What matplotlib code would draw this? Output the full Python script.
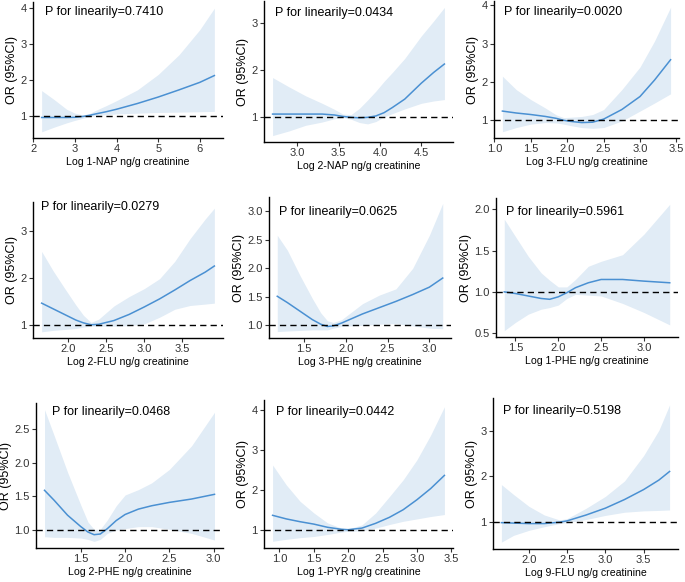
import numpy as np
import matplotlib
matplotlib.use("Agg")
import matplotlib.pyplot as plt
from matplotlib import font_manager

plt.rcParams['font.family'] = ['Liberation Sans', 'DejaVu Sans']

# axis titles in the original use a narrow sans
installed = set(f.name for f in font_manager.fontManager.ttflist)
if 'Liberation Sans Narrow' in installed:
    xlab_font, xlab_size = 'Liberation Sans Narrow', 8.6
else:
    xlab_font, xlab_size = 'Liberation Sans', 7.6

# restricted cubic spline results
nap1_x = [2.2, 2.5, 2.8, 3.0, 3.2, 3.35, 3.5, 3.75, 4.0, 4.5, 5.0, 5.5, 6.0, 6.35]
nap1_or = [0.95, 0.95, 0.95, 0.955, 0.98, 1.01, 1.05, 1.11, 1.18, 1.34, 1.52, 1.72, 1.93, 2.12]
nap1_lo = [0.55, 0.68, 0.80, 0.87, 0.93, 0.97, 1.0, 1.03, 1.05, 1.07, 1.09, 1.10, 1.11, 1.12]
nap1_hi = [1.70, 1.45, 1.18, 1.07, 1.02, 1.06, 1.15, 1.28, 1.42, 1.72, 2.15, 2.70, 3.40, 4.00]

nap2_x = [2.7, 2.9, 3.1, 3.3, 3.45, 3.55, 3.65, 3.75, 3.85, 3.95, 4.05, 4.15, 4.3, 4.5, 4.65, 4.78]
nap2_or = [1.06, 1.06, 1.06, 1.06, 1.04, 1.01, 0.99, 0.98, 0.99, 1.02, 1.09, 1.2, 1.38, 1.72, 1.95, 2.13]
nap2_lo = [0.60, 0.70, 0.82, 0.89, 0.96, 0.99, 0.95, 0.88, 0.85, 0.90, 1.00, 1.07, 1.17, 1.29, 1.34, 1.37]
nap2_hi = [1.84, 1.64, 1.45, 1.29, 1.16, 1.06, 1.05, 1.18, 1.36, 1.55, 1.76, 1.95, 2.25, 2.73, 3.05, 3.34]

flu3_x = [1.11, 1.3, 1.5, 1.7, 1.85, 1.95, 2.05, 2.2, 2.35, 2.5, 2.75, 3.0, 3.2, 3.42]
flu3_or = [1.24, 1.19, 1.15, 1.10, 1.05, 1.0, 0.97, 0.94, 0.95, 1.03, 1.28, 1.62, 2.05, 2.58]
flu3_lo = [0.70, 0.81, 0.90, 0.94, 0.93, 0.90, 0.86, 0.81, 0.79, 0.81, 0.98, 1.24, 1.45, 1.69]
flu3_hi = [2.15, 1.80, 1.54, 1.32, 1.14, 1.07, 1.08, 1.10, 1.15, 1.28, 1.80, 2.39, 3.07, 3.95]

flu2_x = [1.65, 1.8, 1.95, 2.1, 2.2, 2.3, 2.4, 2.6, 2.8, 3.0, 3.2, 3.4, 3.6, 3.8, 3.92]
flu2_or = [1.46, 1.34, 1.22, 1.10, 1.04, 1.0, 1.01, 1.09, 1.22, 1.38, 1.55, 1.74, 1.94, 2.12, 2.25]
flu2_lo = [0.85, 0.88, 0.90, 0.92, 0.95, 0.97, 0.97, 0.97, 0.98, 1.02, 1.16, 1.33, 1.41, 1.44, 1.46]
flu2_hi = [2.56, 2.15, 1.78, 1.42, 1.20, 1.05, 1.12, 1.40, 1.60, 1.77, 1.98, 2.35, 2.83, 3.25, 3.48]

phe3_x = [1.18, 1.3, 1.45, 1.6, 1.7, 1.78, 1.85, 1.95, 2.2, 2.4, 2.6, 2.8, 3.0, 3.16]
phe3_or = [1.51, 1.40, 1.25, 1.10, 1.02, 0.98, 0.99, 1.04, 1.2, 1.31, 1.42, 1.54, 1.67, 1.83]
phe3_lo = [0.89, 0.90, 0.91, 0.92, 0.92, 0.92, 0.95, 0.98, 1.0, 1.02, 1.03, 0.99, 0.95, 0.94]
phe3_hi = [2.58, 2.32, 1.88, 1.47, 1.22, 1.08, 1.05, 1.10, 1.38, 1.53, 1.64, 2.0, 2.58, 3.14]

phe1_x = [1.37, 1.5, 1.65, 1.8, 1.9, 2.0, 2.1, 2.2, 2.35, 2.5, 2.75, 3.0, 3.3]
phe1_or = [1.0, 0.98, 0.95, 0.92, 0.91, 0.94, 0.99, 1.05, 1.11, 1.15, 1.15, 1.13, 1.11]
phe1_lo = [0.53, 0.63, 0.73, 0.79, 0.81, 0.84, 0.92, 0.97, 0.96, 0.95, 0.86, 0.75, 0.60]
phe1_hi = [1.88, 1.67, 1.43, 1.23, 1.14, 1.06, 1.06, 1.15, 1.31, 1.37, 1.45, 1.70, 2.06]

phe2_x = [1.09, 1.2, 1.35, 1.5, 1.58, 1.65, 1.72, 1.8, 1.9, 2.0, 2.15, 2.3, 2.5, 2.75, 3.01]
phe2_or = [1.59, 1.44, 1.22, 1.05, 0.97, 0.93, 0.94, 1.02, 1.14, 1.23, 1.31, 1.36, 1.41, 1.46, 1.53]
phe2_lo = [0.90, 0.89, 0.89, 0.88, 0.86, 0.83, 0.86, 0.95, 1.0, 1.02, 1.05, 1.05, 1.01, 0.95, 0.85]
phe2_hi = [2.79, 2.40, 1.86, 1.37, 1.12, 1.01, 1.01, 1.15, 1.36, 1.52, 1.60, 1.70, 1.90, 2.25, 2.75]

pyr1_x = [0.9, 1.1, 1.3, 1.5, 1.7, 1.9, 2.0, 2.2, 2.4, 2.6, 2.8, 3.0, 3.2, 3.4]
pyr1_or = [1.36, 1.27, 1.20, 1.14, 1.06, 1.01, 1.0, 1.04, 1.16, 1.31, 1.50, 1.75, 2.03, 2.36]
pyr1_lo = [0.71, 0.76, 0.80, 0.83, 0.88, 0.94, 0.96, 0.97, 1.04, 1.13, 1.21, 1.27, 1.33, 1.38]
pyr1_hi = [2.62, 2.12, 1.71, 1.42, 1.17, 1.04, 1.02, 1.12, 1.42, 1.83, 2.25, 2.75, 3.37, 4.08]

flu9_x = [1.64, 1.8, 2.0, 2.2, 2.4, 2.5, 2.75, 3.0, 3.25, 3.5, 3.7, 3.84]
flu9_or = [0.98, 0.97, 0.96, 0.96, 0.99, 1.02, 1.15, 1.30, 1.49, 1.71, 1.92, 2.11]
flu9_lo = [0.55, 0.70, 0.81, 0.89, 0.96, 0.98, 1.05, 1.14, 1.21, 1.24, 1.25, 1.26]
flu9_hi = [1.82, 1.60, 1.34, 1.15, 1.04, 1.07, 1.30, 1.56, 1.90, 2.46, 3.02, 3.58]

names = ['1-NAP', '2-NAP', '3-FLU', '2-FLU', '3-PHE', '1-PHE', '2-PHE', '1-PYR', '9-FLU']
p_values = ['0.7410', '0.0434', '0.0020', '0.0279', '0.0625', '0.5961', '0.0468', '0.0442', '0.5198']

xticks = [[2, 3, 4, 5, 6], [3.0, 3.5, 4.0, 4.5], [1.0, 1.5, 2.0, 2.5, 3.0, 3.5],
          [2.0, 2.5, 3.0, 3.5], [1.5, 2.0, 2.5, 3.0], [1.5, 2.0, 2.5, 3.0],
          [1.5, 2.0, 2.5, 3.0], [1.0, 1.5, 2.0, 2.5, 3.0, 3.5], [2.0, 2.5, 3.0, 3.5]]
yticks = [[1, 2, 3, 4], [1, 2, 3], [1, 2, 3, 4], [1, 2, 3], [1.0, 1.5, 2.0, 2.5, 3.0],
          [0.5, 1.0, 1.5, 2.0], [1.0, 1.5, 2.0, 2.5], [1, 2, 3, 4], [1, 2, 3]]

series = [(nap1_x, nap1_or, nap1_lo, nap1_hi), (nap2_x, nap2_or, nap2_lo, nap2_hi),
          (flu3_x, flu3_or, flu3_lo, flu3_hi), (flu2_x, flu2_or, flu2_lo, flu2_hi),
          (phe3_x, phe3_or, phe3_lo, phe3_hi), (phe1_x, phe1_or, phe1_lo, phe1_hi),
          (phe2_x, phe2_or, phe2_lo, phe2_hi), (pyr1_x, pyr1_or, pyr1_lo, pyr1_hi),
          (flu9_x, flu9_or, flu9_lo, flu9_hi)]

# panel boxes in pixels: left, top, right, bottom
boxes = [(33, 2, 223, 138), (264, 1, 453, 142), (494, 1, 679, 138),
         (33, 202, 223, 338), (269, 197, 451, 338), (496, 198, 678, 337),
         (36, 403, 223, 548), (264, 400, 453, 548), (493, 398, 678, 549)]
# annotation offset (px from spine, fraction from top)
text_pos = [(12, 0.07), (11, 0.085), (10, 0.08), (8, 0.04), (10, 0.105),
            (10, 0.10), (16, 0.065), (12, 0.08), (10, 0.085)]

W, H = 685, 582
fig = plt.figure(figsize=(W / 100, H / 100), dpi=100)

line_col = '#4A90D2'
fill_col = '#E1ECF6'

for i in range(9):
    l, t, r, b = boxes[i]
    ax = fig.add_axes([l / W, 1 - b / H, (r - l) / W, (b - t) / H])
    x, orv, lo, hi = series[i]
    ax.fill_between(x, lo, hi, color=fill_col, lw=0)
    ax.plot(x, orv, color=line_col, lw=1.1)
    ax.axhline(1, color='black', lw=1.0, ls=(0, (4.5, 3)))
    ax.margins(x=0.05, y=0.05)
    ax.set_xticks(xticks[i])
    ax.set_yticks(yticks[i])
    if i in (0, 1, 2, 3, 7, 8):
        ax.set_yticklabels([f'{v:g}' for v in yticks[i]])
    else:
        ax.set_yticklabels([f'{v:.1f}' for v in yticks[i]])
    if i == 0:
        ax.set_xticklabels([f'{v:g}' for v in xticks[i]])
    else:
        ax.set_xticklabels([f'{v:.1f}' for v in xticks[i]])
    for s in ['top', 'right']:
        ax.spines[s].set_visible(False)
    for s in ['left', 'bottom']:
        ax.spines[s].set_linewidth(1.0)
        ax.spines[s].set_color('black')
    ax.tick_params(labelsize=8, colors='#333333', length=3, width=0.8, pad=1.5)
    ax.set_xlabel('Log %s ng/g creatinine' % names[i], fontsize=xlab_size,
                  family=[xlab_font, 'DejaVu Sans'], labelpad=2)
    ax.set_ylabel('OR (95%CI)', fontsize=9, labelpad=2)
    dx, fy = text_pos[i]
    ax.text(dx / (r - l), 1 - fy, 'P for linearily=%s' % p_values[i],
            transform=ax.transAxes, fontsize=9, va='center', ha='left')

fig.savefig('out.png', dpi=100)
